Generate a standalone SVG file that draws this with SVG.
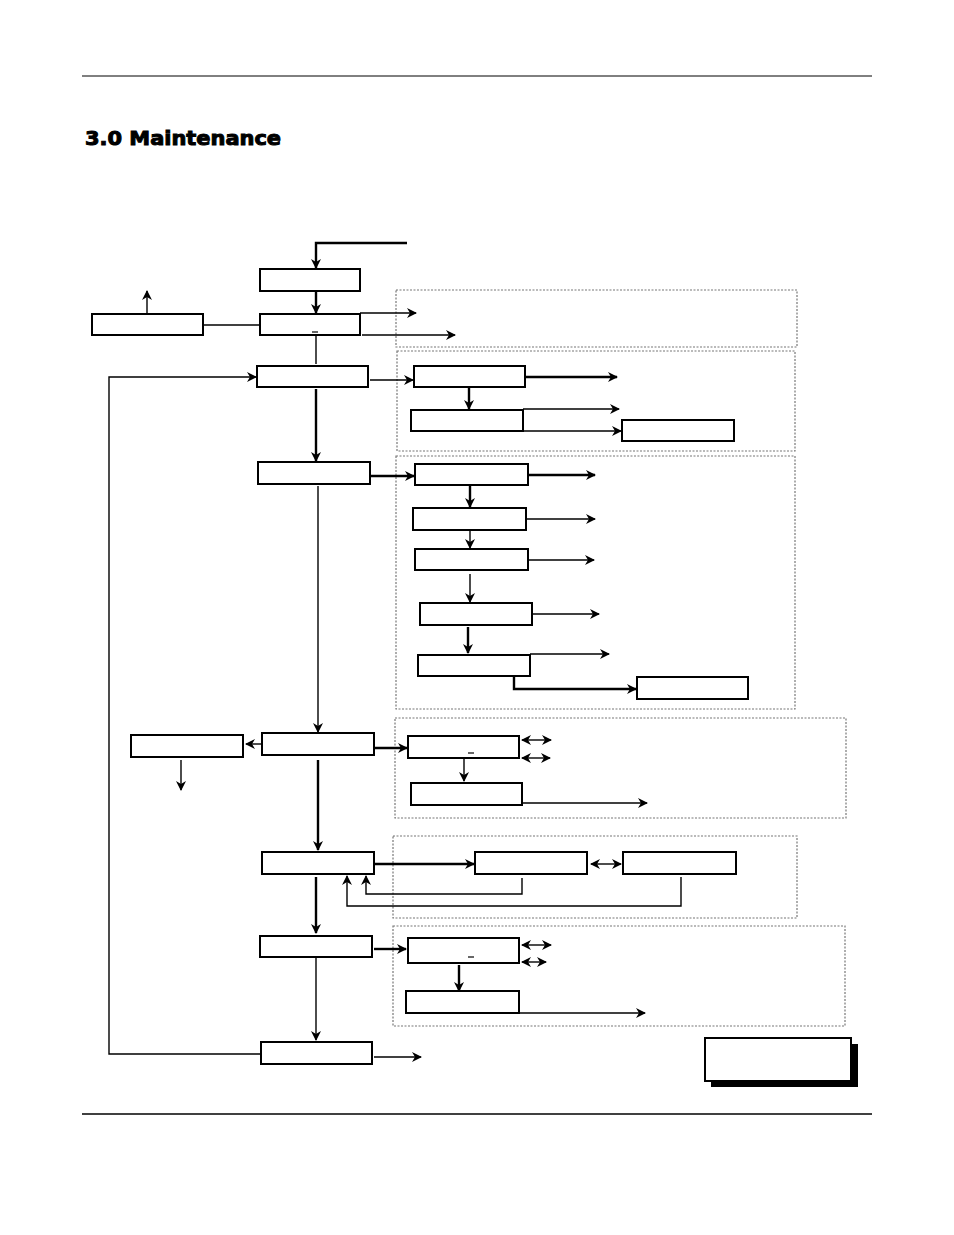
<svg xmlns="http://www.w3.org/2000/svg" width="954" height="1235" viewBox="0 0 954 1235">
<defs>
<marker id="ar" viewBox="0 0 10 10" refX="9" refY="5" markerWidth="10" markerHeight="10" markerUnits="userSpaceOnUse" orient="auto-start-reverse"><path d="M0,0 L10,5 L0,10 L3,5 z" fill="#000"/></marker>
</defs>
<style>
.b{fill:#fff;stroke:#000;stroke-width:2}
.d{fill:none;stroke:#777;stroke-width:1.2;stroke-dasharray:2,1.5}
.c{fill:none;stroke:#000;stroke-width:1.4}
.t{stroke-width:2.4}
.a{marker-end:url(#ar)}
.aa{marker-end:url(#ar);marker-start:url(#ar)}
</style>
<rect width="954" height="1235" fill="#fff"/>
<line x1="82" y1="76" x2="872" y2="76" stroke="#000" stroke-width="1"/>
<line x1="82" y1="1114" x2="872" y2="1114" stroke="#000" stroke-width="1.5"/>
<text x="85" y="145" font-family="DejaVu Sans, Verdana, sans-serif" font-weight="bold" font-size="20" fill="#000" stroke="#000" stroke-width="1" textLength="196" lengthAdjust="spacingAndGlyphs">3.0 Maintenance</text>
<g id="zones">
<rect class="d" x="396" y="290" width="401" height="57"/>
<rect class="d" x="397" y="351" width="398" height="100"/>
<rect class="d" x="396" y="456" width="399" height="253"/>
<rect class="d" x="395" y="718" width="451" height="100"/>
<rect class="d" x="393" y="836" width="404" height="82"/>
<rect class="d" x="393" y="926" width="452" height="100"/>
</g>
<g id="connectors">
<path class="c t a" d="M407,243 H316 V268"/>
<path class="c t a" d="M316,291 V313"/>
<path class="c a" d="M147,314 V291"/>
<path class="c" d="M203,325 H260"/>
<path class="c a" d="M360,313 H416"/>
<path class="c a" d="M362,335 H455"/>
<path class="c" d="M316,335 V364" stroke="#555"/>
<path class="c a" d="M261,1054 H109 V377 H256"/>
<path class="c a" d="M370,380 H413"/>
<path class="c t a" d="M525,377 H617"/>
<path class="c t a" d="M469,388 V409"/>
<path class="c a" d="M523,409 H619"/>
<path class="c a" d="M523,431 H621"/>
<path class="c t a" d="M316,389 V461"/>
<path class="c t a" d="M370,476 H414"/>
<path class="c t a" d="M528,475 H595"/>
<path class="c t a" d="M470,486 V507"/>
<path class="c a" d="M526,519 H595"/>
<path class="c a" d="M470,530 V548"/>
<path class="c a" d="M528,560 H594"/>
<path class="c a" d="M470,574 V602"/>
<path class="c a" d="M532,614 H599"/>
<path class="c t a" d="M468,627 V653"/>
<path class="c a" d="M530,654 H609"/>
<path class="c t a" d="M514,677 V689 H636"/>
<path class="c a" d="M318,486 V732"/>
<path class="c a" d="M262,744 H246"/>
<path class="c a" d="M181,760 V790"/>
<path class="c t a" d="M374,748 H407"/>
<path class="c aa" d="M522,740 H551"/>
<path class="c aa" d="M522,758 H550"/>
<path class="c a" d="M464,757 V781"/>
<path class="c a" d="M522,803 H647"/>
<path class="c t a" d="M318,760 V850"/>
<path class="c t a" d="M374,864 H474"/>
<path class="c aa" d="M591,864 H621" stroke-width="4"/>
<path class="c a" d="M522,878 V894 H366 V876"/>
<path class="c a" d="M681,877 V906 H347 V876"/>
<path class="c t a" d="M316,877 V933"/>
<path class="c t a" d="M374,949 H406"/>
<path class="c aa" d="M522,945 H551"/>
<path class="c aa" d="M522,962 H546"/>
<path class="c t a" d="M459,965 V991"/>
<path class="c a" d="M519,1013 H645"/>
<path class="c a" d="M316,958 V1040"/>
<path class="c a" d="M374,1057 H421"/>
</g>
<g id="nA"><rect class="b" x="260" y="269" width="100" height="22"/></g>
<g id="nB"><rect class="b" x="260" y="314" width="100" height="21"/><line x1="312" y1="332" x2="318" y2="332" stroke="#000" stroke-width="1.2"/></g>
<g id="nL1"><rect class="b" x="92" y="314" width="111" height="21"/></g>
<g id="nC"><rect class="b" x="257" y="366" width="111" height="21"/></g>
<g id="nD1"><rect class="b" x="414" y="366" width="111" height="21"/></g>
<g id="nD2"><rect class="b" x="411" y="410" width="112" height="21"/></g>
<g id="nD3"><rect class="b" x="622" y="420" width="112" height="21"/></g>
<g id="nE"><rect class="b" x="258" y="462" width="112" height="22"/></g>
<g id="nE1"><rect class="b" x="415" y="464" width="113" height="21"/></g>
<g id="nE2"><rect class="b" x="413" y="508" width="113" height="22"/></g>
<g id="nE3"><rect class="b" x="415" y="549" width="113" height="21"/></g>
<g id="nE4"><rect class="b" x="420" y="603" width="112" height="22"/></g>
<g id="nE5"><rect class="b" x="418" y="655" width="112" height="21"/></g>
<g id="nE6"><rect class="b" x="637" y="677" width="111" height="22"/></g>
<g id="nF"><rect class="b" x="262" y="733" width="112" height="22"/></g>
<g id="nF0"><rect class="b" x="131" y="735" width="112" height="22"/></g>
<g id="nG1"><rect class="b" x="408" y="736" width="111" height="22"/><line x1="468" y1="753" x2="474" y2="753" stroke="#000" stroke-width="1.2"/></g>
<g id="nG2"><rect class="b" x="411" y="783" width="111" height="22"/></g>
<g id="nH"><rect class="b" x="262" y="852" width="112" height="22"/></g>
<g id="nH1"><rect class="b" x="475" y="852" width="112" height="22"/></g>
<g id="nH2"><rect class="b" x="623" y="852" width="113" height="22"/></g>
<g id="nI"><rect class="b" x="260" y="936" width="112" height="21"/></g>
<g id="nI1"><rect class="b" x="408" y="938" width="111" height="25"/><line x1="468" y1="957" x2="474" y2="957" stroke="#000" stroke-width="1.2"/></g>
<g id="nI2"><rect class="b" x="406" y="991" width="113" height="22"/></g>
<g id="nJ"><rect class="b" x="261" y="1042" width="111" height="22"/></g>
<g id="nNote"><rect x="711" y="1044" width="147" height="43" fill="#000"/><rect class="b" x="705" y="1038" width="146" height="43"/></g>
</svg>
